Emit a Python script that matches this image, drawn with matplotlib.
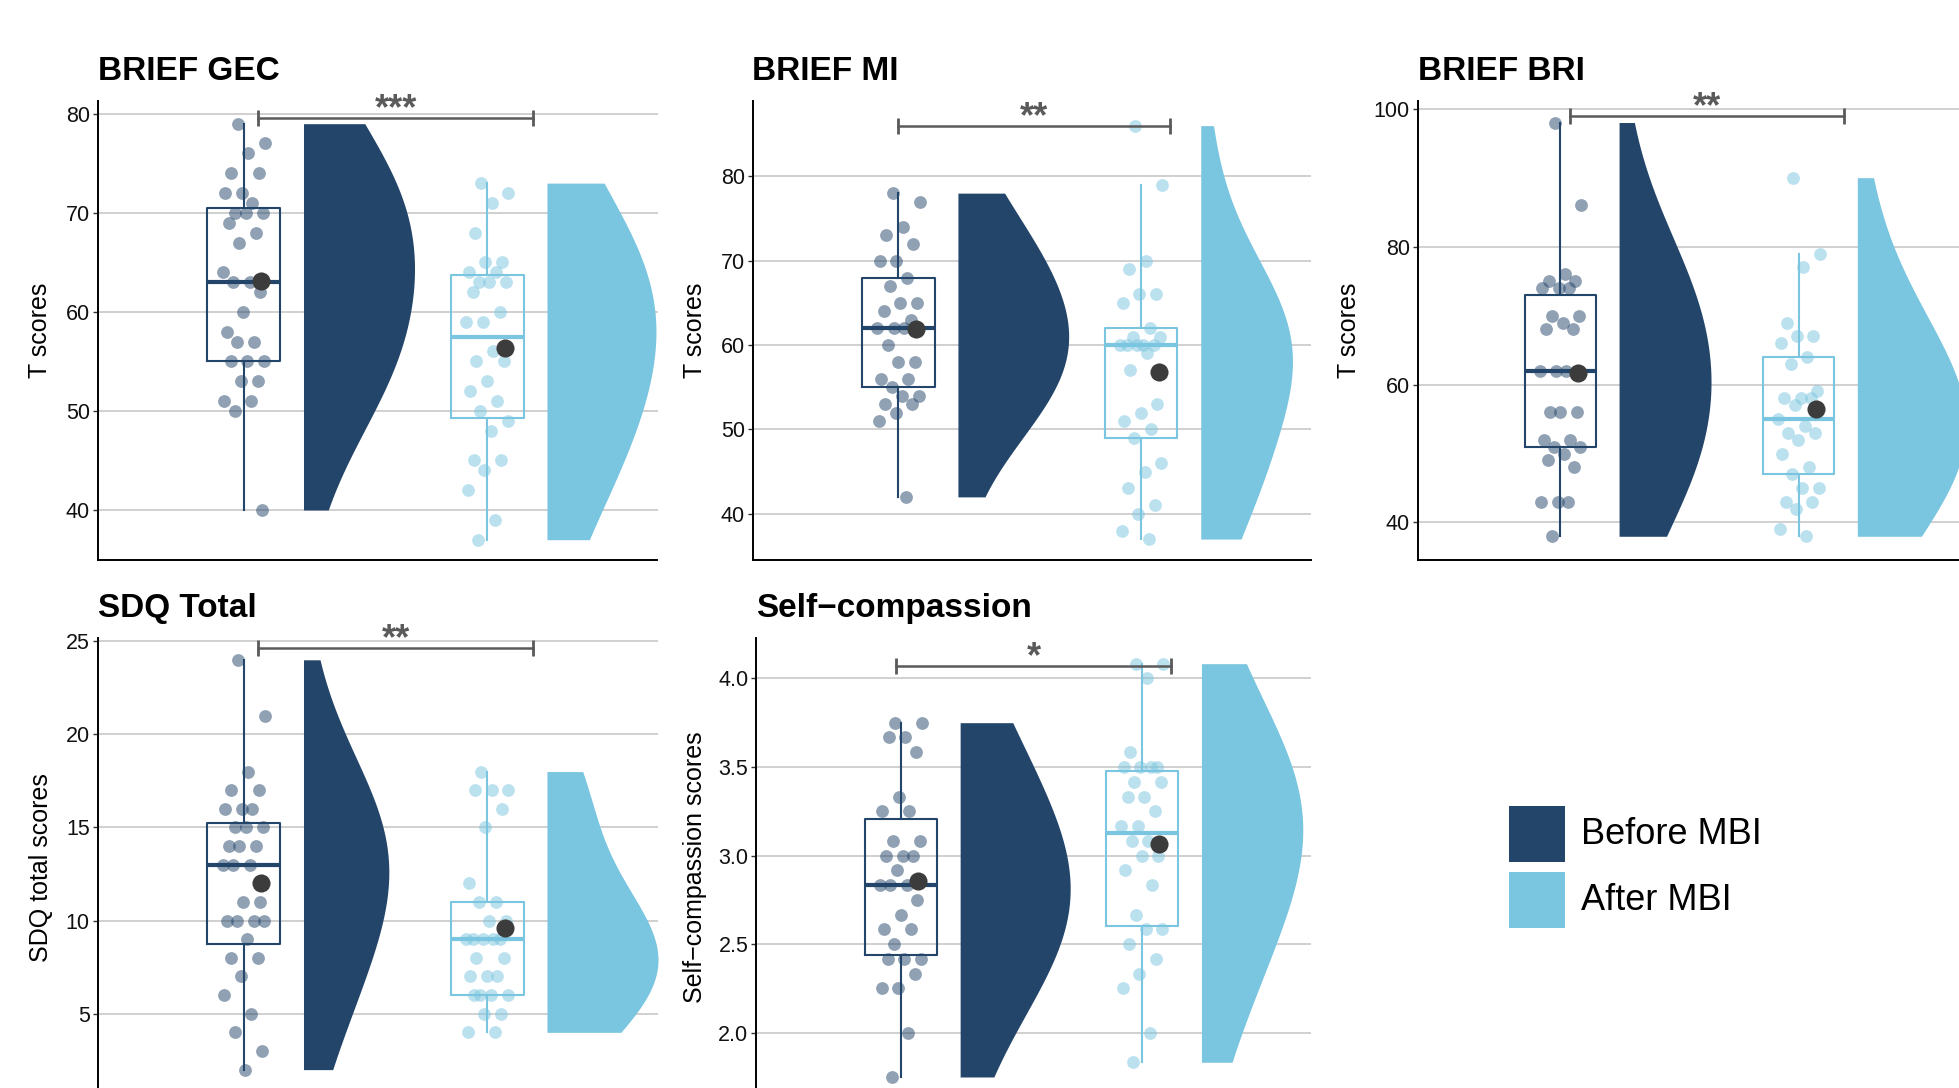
import numpy as np
import matplotlib
matplotlib.use("Agg")
import matplotlib.pyplot as plt
from matplotlib.patches import Rectangle

plt.rcParams["font.family"] = ["Liberation Sans", "DejaVu Sans"]

DARK = "#23456a"
LIGHT = "#7ac5df"
MEAN_COL = "#3c3c3c"
SIG_COL = "#5a5a5a"

# ── data ─────────────────────────────────────────────────────────────────────
gec_before = [79, 77, 76, 74, 74, 72, 72, 71, 70, 70, 70, 69, 68, 67, 64, 63,
              63, 62, 60, 58, 57, 57, 55, 55, 55, 53, 53, 51, 51, 50, 40]
gec_after = [73, 72, 71, 68, 65, 65, 64, 64, 63, 63, 63, 62, 60, 59, 59, 56,
             55, 55, 53, 52, 51, 50, 49, 48, 45, 45, 44, 42, 39, 37]
mi_before = [78, 77, 74, 73, 72, 70, 70, 68, 67, 65, 65, 64, 63, 62, 62, 62,
             60, 58, 58, 56, 56, 55, 54, 54, 53, 53, 52, 51, 42]
mi_after = [86, 79, 70, 69, 66, 66, 65, 62, 61, 61, 60, 60, 60, 60, 60, 59,
            57, 53, 52, 51, 50, 49, 46, 45, 43, 41, 40, 38, 37]
bri_before = [98, 86, 76, 75, 75, 74, 74, 74, 70, 70, 69, 68, 68, 62, 62, 62,
              56, 56, 56, 52, 52, 51, 51, 50, 49, 48, 43, 43, 43, 38]
bri_after = [90, 79, 77, 69, 67, 67, 66, 64, 63, 59, 58, 58, 58, 57, 55, 54,
             53, 53, 52, 50, 48, 47, 45, 45, 43, 43, 42, 39, 38]
sdq_before = [24, 21, 18, 17, 17, 16, 16, 16, 15, 15, 15, 14, 14, 14, 13, 13,
              13, 11, 11, 10, 10, 10, 10, 9, 8, 8, 7, 6, 5, 4, 3, 2]
sdq_after = [18, 17, 17, 17, 16, 15, 12, 11, 11, 10, 10, 9, 9, 9, 9, 9, 8, 8,
             7, 7, 7, 6, 6, 6, 6, 5, 5, 4, 4]
sc_before = [3.75, 3.75, 3.667, 3.667, 3.583, 3.333, 3.25, 3.25, 3.083, 3.083,
             3.0, 3.0, 3.0, 2.917, 2.833, 2.833, 2.833, 2.75, 2.667, 2.583,
             2.583, 2.5, 2.417, 2.417, 2.417, 2.333, 2.25, 2.25, 2.0, 1.75]
sc_after = [4.083, 4.083, 4.0, 3.583, 3.5, 3.5, 3.5, 3.5, 3.417, 3.417, 3.333,
            3.333, 3.25, 3.167, 3.167, 3.083, 3.083, 3.0, 3.0, 2.917, 2.833,
            2.667, 2.583, 2.583, 2.5, 2.417, 2.333, 2.25, 2.0, 1.833]

titles = ["BRIEF GEC", "BRIEF MI", "BRIEF BRI", "SDQ Total", "Self\u2212compassion"]
ylabels = ["T scores", "T scores", "T scores", "SDQ total scores",
           "Self\u2212compassion scores"]
groups = [(gec_before, gec_after), (mi_before, mi_after), (bri_before, bri_after),
          (sdq_before, sdq_after), (sc_before, sc_after)]
yticks = [[40, 50, 60, 70, 80], [40, 50, 60, 70, 80], [40, 60, 80, 100],
          [5, 10, 15, 20, 25], [2.0, 2.5, 3.0, 3.5, 4.0]]
ylims = [(34.95, 81.29), (34.52, 88.92), (34.56, 101.12), (0.53, 25.17), (1.637, 4.228)]
sig_labels = ["***", "**", "**", "**", "*"]
sig_bars = [(1.06, 2.19, 79.62), (1.0, 2.12, 85.96), (1.04, 2.19, 98.91),
            (1.06, 2.19, 24.66), (0.98, 2.12, 4.07)]
legend_labels = ["Before MBI", "After MBI"]

# ── layout in pixels of the 1959x1088 canvas: left, top, width, height, ylabel offset
W, H = 1959, 1088
layout = [(97.5, 101, 560, 459, 57.5), (752.5, 101, 558.5, 459, 57.5),
          (1417.5, 101, 548, 459, 68.5), (97.5, 638, 560, 459, 56),
          (756, 638, 555, 459, 61)]


def kde_trim(vals, adjust=2.0):
    # gaussian kde, nrd0 bandwidth, trimmed to the data range
    v = np.asarray(vals, float)
    n = len(v)
    q75, q25 = np.percentile(v, [75, 25])
    bw = adjust * 0.9 * min(v.std(ddof=1), (q75 - q25) / 1.34) * n ** -0.2
    grid = np.linspace(v.min(), v.max(), 400)
    z = (grid[:, None] - v[None, :]) / bw
    dens = np.exp(-0.5 * z ** 2).sum(1) / (n * bw * np.sqrt(2 * np.pi))
    return grid, dens


def jitter(n, width=0.09):
    k = np.arange(n)
    return (((k * 0.618034 + 0.37) % 1.0) - 0.5) * 2 * width


fig = plt.figure(figsize=(W / 100, H / 100), dpi=100)

for i in range(5):
    left, top, wpx, hpx, lab_off = layout[i]
    ax = fig.add_axes([left / W, 1 - (top + hpx) / H, wpx / W, hpx / H])
    before, after = groups[i]
    dens_all = [kde_trim(before), kde_trim(after)]
    dmax = max(d.max() for _, d in dens_all)

    for j, (vals, col) in enumerate([(before, DARK), (after, LIGHT)]):
        pos = j + 1
        vals = np.asarray(vals, float)
        g, d = dens_all[j]
        x0 = pos + 0.246
        ax.fill_betweenx(g, x0, x0 + 0.456 * d / dmax, color=col, lw=0, zorder=2)
        ax.scatter(pos + jitter(len(vals)), vals, s=85, color=col, alpha=0.5,
                   lw=0, zorder=3)
        ax.boxplot([vals], positions=[pos], widths=0.3, showfliers=False,
                   showcaps=False, manage_ticks=False,
                   boxprops=dict(color=col, lw=1.5),
                   whiskerprops=dict(color=col, lw=1.5),
                   medianprops=dict(color=col, lw=3.0),
                   zorder=4)
        ax.scatter([pos + 0.072], [vals.mean()], s=170, color=MEAN_COL, lw=0,
                   zorder=6)

    # significance bracket
    x1, x2, yb = sig_bars[i]
    ax.plot([x1, x2], [yb, yb], color=SIG_COL, lw=1.8, zorder=7, clip_on=False)
    ax.plot([x1, x2], [yb, yb], ls="none", marker="|", ms=11, mew=2.0,
            color=SIG_COL, zorder=7, clip_on=False)
    ax.annotate(sig_labels[i], xy=((x1 + x2) / 2, yb), xytext=(0, -1),
                textcoords="offset points", ha="center", va="baseline",
                fontsize=26, fontweight="bold", color=SIG_COL)

    ax.set_xlim(0.4, 2.7)
    ax.set_ylim(*ylims[i])
    ax.set_xticks([])
    ax.set_yticks(yticks[i])
    if i == 4:
        ax.set_yticklabels([f"{t:.1f}" for t in yticks[i]])
    ax.tick_params(axis="y", length=3.5, width=1.0, color="#333333",
                   labelsize=15.5, pad=2, labelcolor="#111111")
    ax.yaxis.grid(True, color="#c8c8c8", lw=1.2)
    ax.set_axisbelow(True)
    for side in ("top", "right"):
        ax.spines[side].set_visible(False)
    for side in ("left", "bottom"):
        ax.spines[side].set_linewidth(1.4)
        ax.spines[side].set_color("black")
    ax.set_title(titles[i], loc="left", fontsize=24, fontweight="bold", pad=15)
    ax.set_ylabel(ylabels[i], fontsize=18, va="center")
    ax.yaxis.set_label_coords(-lab_off / wpx, 0.5)

# ── legend ───────────────────────────────────────────────────────────────────
for k, (lab, col) in enumerate(zip(legend_labels, [DARK, LIGHT])):
    top = 806 + k * 66
    fig.add_artist(Rectangle((1509 / W, 1 - (top + 56) / H), 56 / W, 56 / H,
                             transform=fig.transFigure, color=col, lw=0))
    fig.text(1581 / W, 1 - (top + 28) / H, lab, fontsize=26, va="center",
             ha="left")

fig.savefig("out.png", dpi=100)
